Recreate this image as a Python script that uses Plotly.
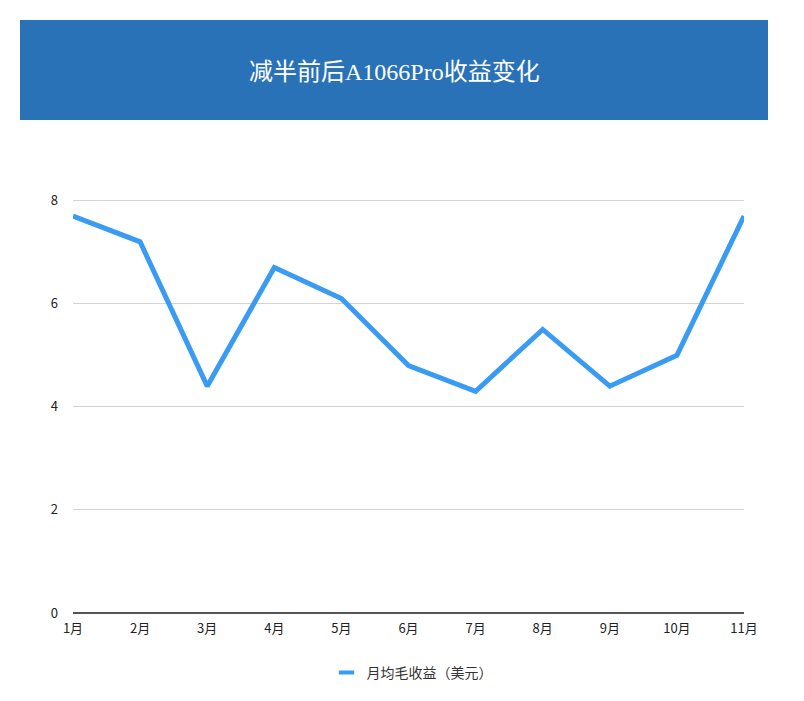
import plotly.graph_objects as go

# monthly data
months = ["1月", "2月", "3月", "4月", "5月", "6月", "7月", "8月", "9月", "10月", "11月"]
income = [7.7, 7.2, 4.4, 6.7, 6.1, 4.8, 4.3, 5.5, 4.4, 5.0, 7.7]
series_name = "月均毛收益（美元）"
title_text = "减半前后A1066Pro收益变化"
y_ticks = [0, 2, 4, 6, 8]

W, H = 804, 701
OFF = 8  # page body margin of the browser
ml, mr, mt, mb = 73 - OFF, W - 744 + OFF, 198 - OFF, H - 613 + OFF
pw = W - ml - mr
ph = H - mt - mb
blue = "#3A9BF2"


def px_x(x):
    # screen pixel -> paper fraction
    return (x - OFF - ml) / pw


def px_y(y):
    return (H - mb - (y - OFF)) / ph


fig = go.Figure(go.Scatter(
    x=list(range(len(months))), y=income,
    mode="lines", name=series_name, showlegend=False,
    line=dict(color=blue, width=5),
))

# legend entry with a short dash like the reference
fig.add_trace(go.Scatter(
    x=[None], y=[None], mode="markers", name=series_name,
    marker=dict(symbol="line-ew-open", size=11, color=blue, line=dict(color=blue, width=4)),
))

# blue title banner
fig.add_shape(type="rect", xref="paper", yref="paper",
              x0=px_x(20), x1=px_x(768), y0=px_y(120), y1=px_y(20),
              fillcolor="#2A72B8", line=dict(color="#2A72B8", width=0),
              layer="below")
fig.add_annotation(xref="paper", yref="paper", x=px_x(394), y=px_y(72),
                   xanchor="center", yanchor="middle",
                   text=title_text, showarrow=False,
                   font=dict(family="Liberation Serif, Noto Sans CJK SC", size=24, color="white"))

fig.update_layout(
    width=W, height=H,
    margin=dict(l=ml, r=mr, t=mt, b=mb),
    paper_bgcolor="white", plot_bgcolor="white",
    font=dict(family="Noto Sans CJK SC, Arial", color="#333333", size=13),
    showlegend=True,
    legend=dict(orientation="h", x=px_x(412), xanchor="center", y=px_y(673), yanchor="middle",
                font=dict(size=14, color="#333333")),
    xaxis=dict(range=[0, len(months) - 1], tickmode="array",
               tickvals=list(range(len(months))), ticktext=months,
               showgrid=False, zeroline=False, showline=False,
               ticks="", ticklabelstandoff=6, tickfont=dict(size=13, color="#222222")),
    yaxis=dict(range=[0, 8.05], tickmode="array", tickvals=y_ticks,
               showgrid=True, gridcolor="#D3D3D3", gridwidth=1,
               zeroline=True, zerolinecolor="#555555", zerolinewidth=2,
               showline=False, ticks="", ticklabelstandoff=14,
               tickfont=dict(size=13, color="#222222")),
)

fig.write_html("out.html")
